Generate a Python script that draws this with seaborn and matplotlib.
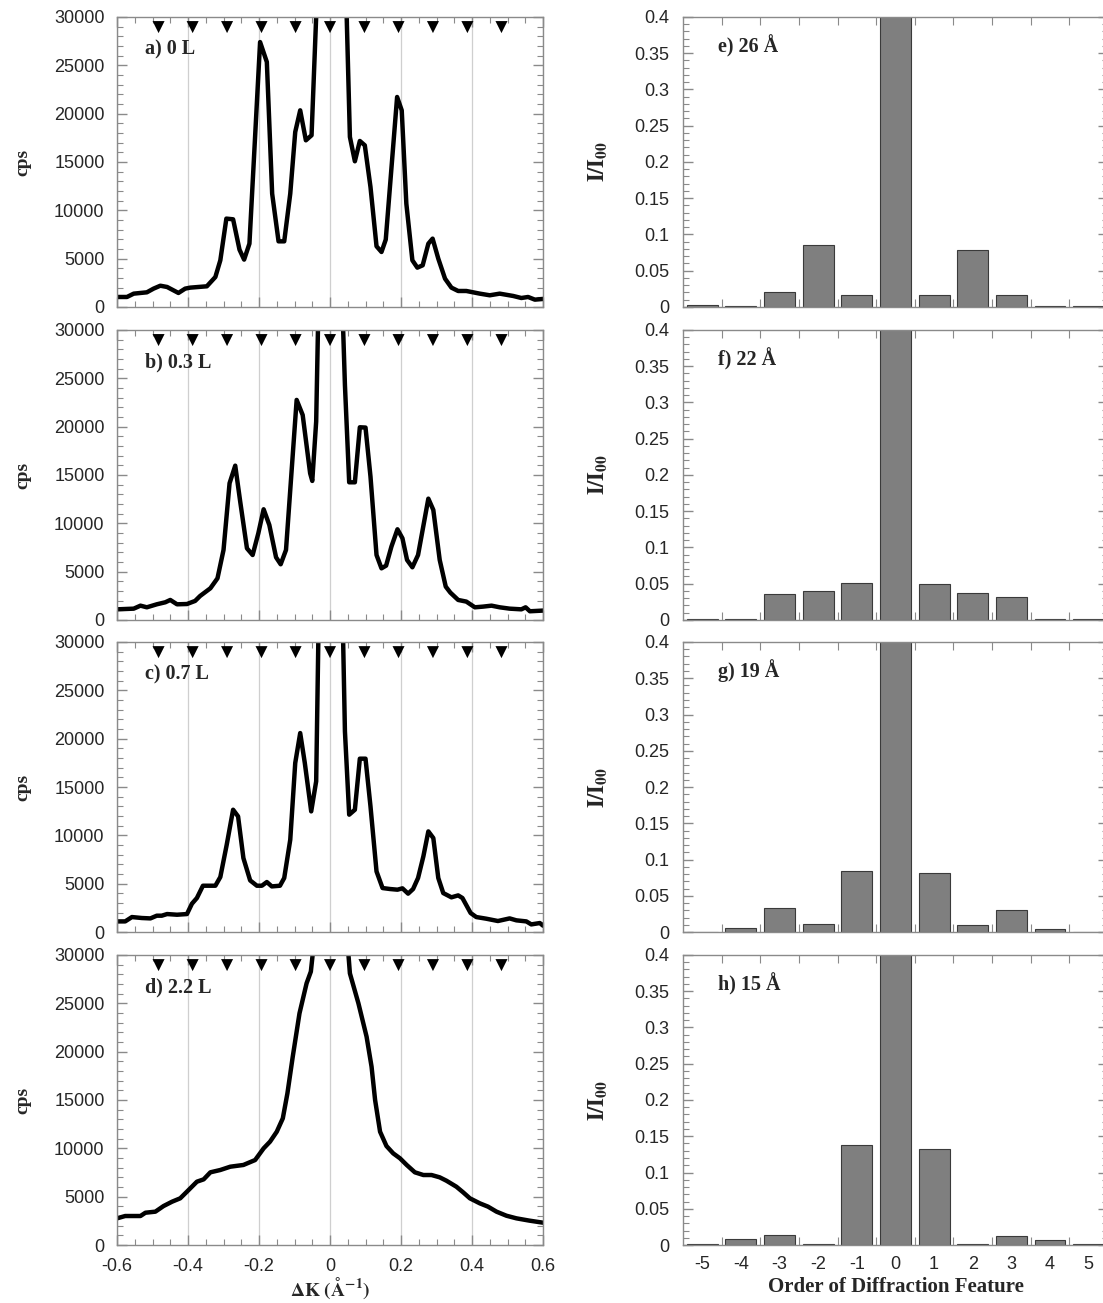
import numpy as np
import pandas as pd
import matplotlib
matplotlib.use("Agg")
import matplotlib.pyplot as plt
from matplotlib.ticker import MultipleLocator, FuncFormatter
import seaborn as sns

# ---- data ----

# a) 0 L
k_a = [-0.6, -0.572, -0.553, -0.516, -0.497, -0.478, -0.459, -0.427, -0.408, -0.394,
       -0.347, -0.323, -0.309, -0.292, -0.273, -0.255, -0.242, -0.227, -0.197, -0.178,
       -0.163, -0.145, -0.129, -0.112, -0.098, -0.084, -0.068, -0.052, -0.035, 0.0,
       0.044, 0.056, 0.070, 0.084, 0.098, 0.114, 0.131, 0.145, 0.157, 0.189,
       0.202, 0.215, 0.232, 0.246, 0.261, 0.277, 0.289, 0.305, 0.324, 0.342,
       0.361, 0.384, 0.422, 0.45, 0.478, 0.516, 0.539, 0.558, 0.577, 0.6]
cps_a = [1035, 1035, 1380, 1517, 1900, 2200, 2070, 1450, 1900, 2000,
         2140, 3100, 4830, 9140, 9070, 5930, 4900, 6550, 27400, 25340,
         11720, 6790, 6790, 11720, 18100, 20340, 17240, 17760, 33800, 60000,
         34100, 17590, 15070, 17170, 16720, 12410, 6280, 5690, 6970, 21720,
         20340, 10690, 4830, 4070, 4310, 6550, 7070, 5000, 2930, 2000,
         1655, 1655, 1380, 1210, 1380, 1140, 930, 1035, 760, 830]

# b) 0.3 L
k_b = [-0.6, -0.553, -0.534, -0.516, -0.488, -0.464, -0.45, -0.431, -0.403, -0.38,
       -0.366, -0.337, -0.317, -0.3, -0.283, -0.267, -0.253, -0.234, -0.218, -0.202,
       -0.187, -0.171, -0.152, -0.139, -0.124, -0.108, -0.094, -0.077, -0.056, -0.05,
       -0.039, -0.032, 0.0, 0.035, 0.042, 0.054, 0.070, 0.084, 0.100, 0.114,
       0.131, 0.145, 0.158, 0.173, 0.190, 0.204, 0.217, 0.232, 0.248, 0.277,
       0.291, 0.309, 0.326, 0.339, 0.361, 0.384, 0.408, 0.431, 0.455, 0.478,
       0.506, 0.539, 0.551, 0.563, 0.6]
cps_b = [1100, 1170, 1480, 1310, 1620, 1830, 2070, 1620, 1650, 1970,
         2480, 3280, 4310, 7240, 14140, 15960, 12240, 7410, 6720, 8960,
         11450, 9830, 6480, 5760, 7240, 15520, 22760, 21200, 15170, 14380,
         20520, 33800, 60000, 32300, 24300, 14240, 14240, 19930, 19900, 14830,
         6720, 5340, 5620, 7590, 9380, 8450, 6210, 5450, 6720, 12550,
         11380, 6210, 3450, 2830, 2070, 1900, 1310, 1380, 1480, 1310,
         1170, 1100, 1310, 900, 970]

# c) 0.7 L
k_c = [-0.6, -0.577, -0.558, -0.53, -0.506, -0.488, -0.474, -0.459, -0.431, -0.403,
       -0.389, -0.375, -0.358, -0.323, -0.309, -0.291, -0.273, -0.259, -0.244, -0.225,
       -0.206, -0.192, -0.178, -0.164, -0.141, -0.129, -0.112, -0.098, -0.084, -0.071,
       -0.053, -0.039, -0.031, 0.0, 0.035, 0.042, 0.054, 0.070, 0.084, 0.100,
       0.114, 0.131, 0.148, 0.169, 0.190, 0.204, 0.220, 0.234, 0.248, 0.263,
       0.277, 0.291, 0.305, 0.319, 0.342, 0.361, 0.373, 0.396, 0.412, 0.44,
       0.473, 0.506, 0.525, 0.553, 0.567, 0.591, 0.6]
cps_c = [1100, 1100, 1550, 1450, 1410, 1690, 1690, 1860, 1790, 1860,
         2930, 3520, 4790, 4790, 5690, 9030, 12650, 11960, 7650, 5340,
         4790, 4790, 5170, 4720, 4790, 5590, 9550, 17480, 20580, 17480,
         12480, 15590, 34800, 60000, 33700, 20760, 12140, 12650, 17930, 17930,
         13000, 6270, 4550, 4450, 4380, 4520, 3970, 4450, 5590, 7830,
         10410, 9720, 5590, 4030, 3590, 3790, 3520, 1970, 1550, 1380,
         1140, 1410, 1210, 1100, 790, 930, 660]

# d) 2.2 L
k_d = [-0.6, -0.577, -0.534, -0.52, -0.492, -0.469, -0.445, -0.422, -0.403, -0.375,
       -0.356, -0.337, -0.309, -0.281, -0.244, -0.211, -0.187, -0.169, -0.15, -0.133,
       -0.12, -0.105, -0.086, -0.066, -0.054, -0.044, 0.0, 0.049, 0.056, 0.080,
       0.103, 0.117, 0.127, 0.141, 0.159, 0.178, 0.197, 0.216, 0.239, 0.263,
       0.286, 0.309, 0.328, 0.356, 0.375, 0.394, 0.422, 0.445, 0.469, 0.497,
       0.525, 0.562, 0.6]
cps_d = [2760, 3000, 3000, 3340, 3450, 4030, 4480, 4830, 5520, 6550,
         6790, 7520, 7760, 8100, 8280, 8790, 10000, 10690, 11720, 13100,
         15690, 19480, 23960, 27070, 28280, 31700, 60000, 31400, 28100, 25000,
         21550, 18450, 15000, 11720, 10240, 9480, 8970, 8280, 7520, 7240,
         7240, 7000, 6650, 6030, 5450, 4830, 4310, 3970, 3450, 3030,
         2760, 2520, 2310]

# expected diffraction positions (triangles)
peak_k = [-0.483, -0.387, -0.290, -0.193, -0.097, 0.0, 0.097, 0.193, 0.290, 0.387, 0.483]

profile_labels = ["a) 0 L", "b) 0.3 L", "c) 0.7 L", "d) 2.2 L"]

# intensity ratios per diffraction order
orders = [-5, -4, -3, -2, -1, 0, 1, 2, 3, 4, 5]
ratio_e = [0.003, 0.002, 0.020, 0.085, 0.017, 1.0, 0.016, 0.079, 0.016, 0.001, 0.001]
ratio_f = [0.001, 0.001, 0.036, 0.040, 0.051, 1.0, 0.049, 0.037, 0.032, 0.001, 0.001]
ratio_g = [0.000, 0.005, 0.033, 0.011, 0.084, 1.0, 0.081, 0.010, 0.030, 0.004, 0.000]
ratio_h = [0.002, 0.008, 0.014, 0.002, 0.138, 1.0, 0.133, 0.002, 0.013, 0.007, 0.001]

bar_labels = ["e) 26 Å", "f) 22 Å", "g) 19 Å", "h) 15 Å"]

# ---- style ----
sns.set_style("ticks")
plt.rcParams["font.family"] = ["Liberation Sans", "DejaVu Sans"]
plt.rcParams["mathtext.fontset"] = "stix"
plt.rcParams["axes.unicode_minus"] = False

SERIF = ["Liberation Serif", "DejaVu Serif"]
FRAME = "#8a8a8a"
fmt = FuncFormatter(lambda v, _: f"{round(v, 3) + 0:g}")

fig = plt.figure(figsize=(11.03, 13.03), dpi=100)

bottoms = [0.7644, 0.5242, 0.2847, 0.0445]
h = 0.2226

profiles = [(k_a, cps_a), (k_b, cps_b), (k_c, cps_c), (k_d, cps_d)]
ratios = [ratio_e, ratio_f, ratio_g, ratio_h]


def style_frame(ax):
    for s in ax.spines.values():
        s.set_color(FRAME)
        s.set_linewidth(1.0)
    ax.tick_params(which="both", direction="in", top=True, right=True,
                   color=FRAME, labelsize=13)
    ax.tick_params(which="major", length=7, width=1)
    ax.tick_params(which="minor", length=4, width=0.8)


# ---- left column: line profiles ----
for i, ((k, c), lab) in enumerate(zip(profiles, profile_labels)):
    ax = fig.add_axes([0.1061, bottoms[i], 0.3862, h])
    style_frame(ax)
    ax.grid(axis="x", which="major", color="#cfcfcf", lw=0.9)
    ax.set_axisbelow(True)
    sns.lineplot(x=k, y=c, ax=ax, color="black", lw=3.2, sort=False, estimator=None)
    sns.scatterplot(x=peak_k, y=[0.965] * len(peak_k), ax=ax, marker="v", s=75,
                    color="black", edgecolor="none", transform=ax.get_xaxis_transform(),
                    clip_on=False, zorder=5)
    ax.set_xlim(-0.6, 0.6)
    ax.set_ylim(0, 30000)
    ax.xaxis.set_major_locator(MultipleLocator(0.2))
    ax.xaxis.set_minor_locator(MultipleLocator(0.05))
    ax.yaxis.set_major_locator(MultipleLocator(5000))
    ax.yaxis.set_minor_locator(MultipleLocator(1000))
    ax.xaxis.set_major_formatter(fmt)
    ax.tick_params(axis="y", pad=9)
    ax.tick_params(axis="x", pad=9)
    ax.set_ylabel("cps", fontfamily=SERIF, fontweight="bold", fontsize=14)
    ax.yaxis.set_label_coords(-0.2, 0.5)
    ax.text(0.066, 0.869, lab, transform=ax.transAxes, fontfamily=SERIF,
            fontweight="bold", fontsize=14.5, va="baseline")
    if i < 3:
        ax.tick_params(axis="x", labelbottom=False)
        ax.set_xlabel("")
    else:
        ax.set_xlabel(r"$\mathbf{\Delta K\ (\AA^{-1})}$", fontsize=14)
        ax.xaxis.set_label_coords(0.5, -0.105)

# ---- right column: intensity ratios ----
for i, (r, lab) in enumerate(zip(ratios, bar_labels)):
    ax = fig.add_axes([0.6192, bottoms[i], 0.3853, h])
    style_frame(ax)
    df = pd.DataFrame({"order": orders, "ratio": r})
    sns.barplot(data=df, x="order", y="ratio", order=orders, ax=ax, color="#7f7f7f",
                saturation=1, edgecolor="#3a3a3a", linewidth=0.8, width=0.8)
    ax.set_xlim(-0.5, len(orders) - 0.5)
    ax.set_ylim(0, 0.4)
    ax.set_xticks(np.arange(0.5, len(orders) - 1, 1), minor=True)
    ax.tick_params(axis="x", which="major", length=0, pad=8)
    ax.tick_params(axis="x", which="minor", length=6)
    ax.yaxis.set_major_locator(MultipleLocator(0.05))
    ax.yaxis.set_minor_locator(MultipleLocator(0.01))
    ax.yaxis.set_major_formatter(fmt)
    ax.tick_params(axis="y", pad=10)
    ax.set_ylabel(r"$\mathbf{I/I_{00}}$", fontsize=16)
    ax.yaxis.set_label_coords(-0.172, 0.5)
    ax.text(0.082, 0.879, lab, transform=ax.transAxes, fontfamily=SERIF,
            fontweight="bold", fontsize=14.5, va="baseline")
    if i < 3:
        ax.tick_params(axis="x", labelbottom=False)
        ax.set_xlabel("")
    else:
        ax.set_xlabel("Order of Diffraction Feature", fontfamily=SERIF,
                      fontweight="bold", fontsize=15)
        ax.xaxis.set_label_coords(0.5, -0.11)

fig.savefig("out.png", dpi=100)
